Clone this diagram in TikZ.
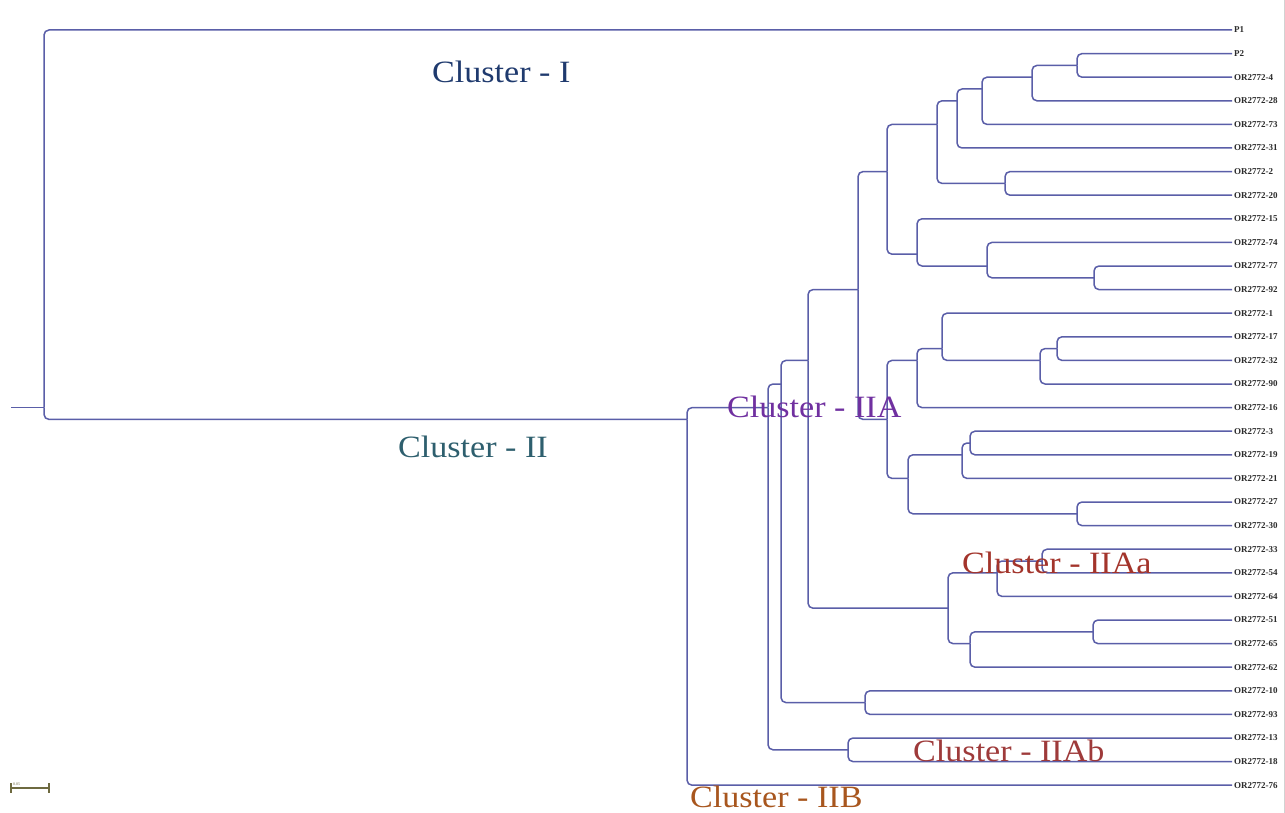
\documentclass[tikz,border=0pt]{standalone}
\usepackage{fontspec}
\setmainfont{Liberation Serif}
\usepackage{graphicx}

\definecolor{branchblue}{HTML}{5A5EA8}
\definecolor{leafgray}{HTML}{2B2B2B}
\definecolor{barolive}{HTML}{6E6A40}
\definecolor{cI}{HTML}{1F3A6E}
\definecolor{cII}{HTML}{2E5F6E}
\definecolor{cIIA}{HTML}{7030A0}
\definecolor{cIIAa}{HTML}{A3342B}
\definecolor{cIIAb}{HTML}{9E3A3A}
\definecolor{cIIB}{HTML}{A8561E}

% vertical position of a leaf slot (or of a mean slot for an inner node)
\newcommand\yy[1]{30+23.6*(#1)}
% slightly widened cluster captions
\newcommand\wide[1]{\scalebox{1.1}[1]{#1}}

\begin{document}
\begin{tikzpicture}[x=1pt,y=-1pt,
  branch/.style={draw=branchblue, line width=1.5pt, rounded corners=5pt},
  leaf/.style={anchor=west, inner xsep=2pt, inner ysep=0pt,
               font=\fontsize{9}{9}\selectfont\bfseries, text=leafgray},
  clabel/.style={anchor=base west, inner sep=0pt,
                 font=\fontsize{31}{31}\selectfont},
  scalebar/.style={draw=barolive, line width=1.2pt}]

\fill[white] (0,0) rectangle (1285,813);
\useasboundingbox (0,0) rectangle (1285,813);

% leaves
\foreach \i/\n/\t in {0/P1/P1, 1/P2/P2, 2/o4/OR2772-4, 3/o28/OR2772-28,
  4/o73/OR2772-73, 5/o31/OR2772-31, 6/o2/OR2772-2, 7/o20/OR2772-20,
  8/o15/OR2772-15, 9/o74/OR2772-74, 10/o77/OR2772-77, 11/o92/OR2772-92,
  12/o1/OR2772-1, 13/o17/OR2772-17, 14/o32/OR2772-32, 15/o90/OR2772-90,
  16/o16/OR2772-16, 17/o3/OR2772-3, 18/o19/OR2772-19, 19/o21/OR2772-21,
  20/o27/OR2772-27, 21/o30/OR2772-30, 22/o33/OR2772-33, 23/o54/OR2772-54,
  24/o64/OR2772-64, 25/o51/OR2772-51, 26/o65/OR2772-65, 27/o62/OR2772-62,
  28/o10/OR2772-10, 29/o93/OR2772-93, 30/o13/OR2772-13, 31/o18/OR2772-18,
  32/o76/OR2772-76}
  \node[leaf] (\n) at (1232,{\yy{\i}}) {\t};

% inner nodes of the tree
\coordinate (base)  at (11,{\yy{16}});
\coordinate (root)  at (44,{\yy{16}});
\coordinate (nII)   at (687,{\yy{16.5}});
\coordinate (n767)  at (768,{\yy{16}});
\coordinate (n848)  at (848,{\yy{30.5}});
\coordinate (n780)  at (781,{\yy{15}});
\coordinate (n865)  at (865,{\yy{28.5}});
\coordinate (n808)  at (808,{\yy{14}});
\coordinate (nK)    at (858,{\yy{11}});
\coordinate (nJ)    at (887,{\yy{6}});
\coordinate (nE)    at (937,{\yy{4}});
\coordinate (nD)    at (957,{\yy{3}});
\coordinate (nC)    at (982,{\yy{2.5}});
\coordinate (nB)    at (1032,{\yy{2}});
\coordinate (nA)    at (1077,{\yy{1.5}});
\coordinate (nF)    at (1005,{\yy{6.5}});
\coordinate (nG)    at (917,{\yy{9.5}});
\coordinate (nH)    at (987,{\yy{10}});
\coordinate (nI)    at (1094,{\yy{10.5}});
\coordinate (nL)    at (887,{\yy{16.5}});
\coordinate (nN)    at (917,{\yy{14}});
\coordinate (nM)    at (942,{\yy{13.5}});
\coordinate (nQ)    at (1040,{\yy{14}});
\coordinate (nR)    at (1057,{\yy{13.5}});
\coordinate (nO)    at (908,{\yy{19}});
\coordinate (nS)    at (962,{\yy{18}});
\coordinate (nU)    at (970,{\yy{17.5}});
\coordinate (nT)    at (1077,{\yy{20.5}});
\coordinate (nIIAa) at (948,{\yy{24.5}});
\coordinate (nV)    at (997,{\yy{23}});
\coordinate (nX)    at (1042,{\yy{22.5}});
\coordinate (nW)    at (970,{\yy{26}});
\coordinate (nY)    at (1093,{\yy{25.5}});

% stem of the tree
\draw[branch] (base) -- (root);

% inner node to inner node
\foreach \p/\c in {root/nII, nII/n767, n767/n780, n767/n848, n780/n808,
  n780/n865, n808/nK, n808/nIIAa, nK/nJ, nK/nL, nJ/nE, nJ/nG, nE/nD, nE/nF,
  nD/nC, nC/nB, nB/nA, nG/nH, nH/nI, nL/nN, nL/nO, nN/nM, nM/nQ, nQ/nR,
  nO/nS, nO/nT, nS/nU, nIIAa/nV, nIIAa/nW, nV/nX, nW/nY}
  \draw[branch] (\p) |- (\c);

% inner node to leaf
\foreach \p/\c in {root/P1, nII/o76, n848/o13, n848/o18, n865/o10, n865/o93,
  nA/P2, nA/o4, nB/o28, nC/o73, nD/o31, nF/o2, nF/o20, nG/o15, nH/o74,
  nI/o77, nI/o92, nM/o1, nR/o17, nR/o32, nQ/o90, nN/o16, nU/o3, nU/o19,
  nS/o21, nT/o27, nT/o30, nX/o33, nX/o54, nV/o64, nY/o51, nY/o65, nW/o62}
  \draw[branch] (\p) |- (\c.west);

% cluster captions
\node[clabel, text=cI]    (capI)    at (432,83)  {\wide{Cluster - I}};
\node[clabel, text=cII]   (capII)   at (398,457) {\wide{Cluster - II}};
\node[clabel, text=cIIA]  (capIIA)  at (727,417) {\wide{Cluster - IIA}};
\node[clabel, text=cIIAa] (capIIAa) at (962,573) {\wide{Cluster - IIAa}};
\node[clabel, text=cIIAb] (capIIAb) at (913,761) {\wide{Cluster - IIAb}};
\node[clabel, text=cIIB]  (capIIB)  at (690,807) {\wide{Cluster - IIB}};

% distance scale
\draw[scalebar] (11,783) -- (11,793) (11,788) -- (49,788) (49,783) -- (49,793);
\node[inner sep=0pt, anchor=base west, text=barolive,
      font=\fontsize{4}{4}\selectfont] (sbtext) at (13,785) {0.05};

% right frame edge
\draw[gray!35, line width=0.8pt] (1284,0) -- (1284,813);
\end{tikzpicture}
\end{document}
